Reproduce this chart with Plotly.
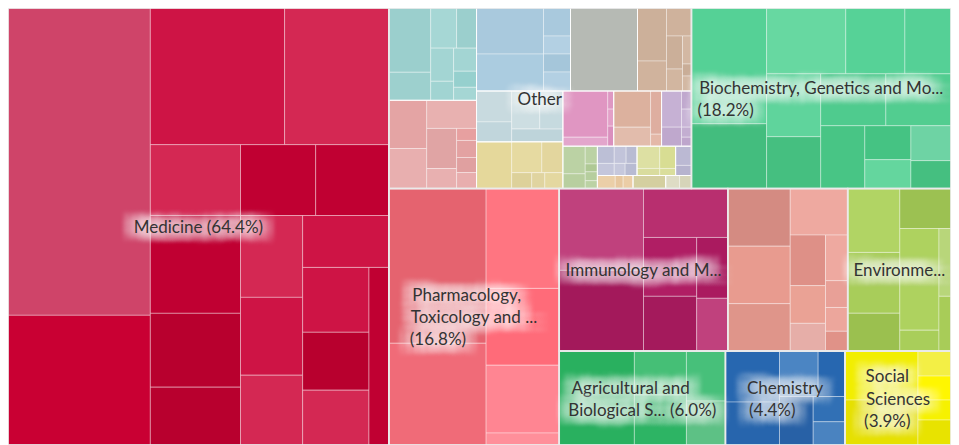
import plotly.graph_objects as go

# ---------------- data (areas) ----------------
CAT_KEYS = ["MED", "OTH", "BIO", "PHA", "IMM", "SAL", "ENV", "AGR", "CHE", "SOC"]
CAT_NAMES = ["Medicine", "Other", "Biochemistry, Genetics and Molecular Biology",
             "Pharmacology, Toxicology and Pharmaceutics", "Immunology and Microbiology",
             "Unlabelled area", "Environmental Science", "Agricultural and Biological Sciences",
             "Chemistry", "Social Sciences"]
EM, EN, THIN = "\u2003", "\u2002", "\u2009"
CAT_LABELS = ["Medicine (64.4%)", "Other",
              "Biochemistry, Genetics and Mo...<br>(18.2%)" + EM * 15,
              "Pharmacology," + EM + THIN + "<br>Toxicology and ...<br>(16.8%)" + EM * 5 + EN,
              "Immunology and M...", "", "Environme...",
              "Agricultural and" + EM + EN + THIN + "<br>Biological S... (6.0%)",
              "Chemistry<br>(4.4%)" + EM * 2, "Social" + EM + EN + "<br>Sciences<br>(3.9%)" + EM + EN]

MED_VALUES = [43736, 18460, 18358, 14248, 6390, 5325, 5183, 8820, 6660, 5220,
              5084, 4836, 4340, 4472, 4290, 3828, 3630, 3560]
MED_COLORS = ["#CF4469", "#C90033", "#CE1445", "#D42853", "#D42853", "#C00032", "#C00032",
              "#C00032", "#B8002E", "#B8002E", "#D42853", "#CE1445", "#D42853", "#CE1445",
              "#CE1445", "#B8002E", "#D42853", "#C00032"]
MED_TILES = ("H", [("V", [0, 1]),
                   ("V", [("H", [2, 3]), ("H", [4, 5, 6]),
                          ("H", [("V", [7, 8, 9]), ("V", [10, 11, 12]),
                                 ("V", [13, ("H", [("V", [14, 15, 16]), 17])])])])])

BIO_VALUES = [8700, 4875, 5214, 3894, 3036, 3402, 2808, 3380, 3380, 2772, 1564, 1334, 1400, 1120]
BIO_COLORS = ["#55D196", "#43BD7E", "#67D8A1", "#56D297", "#55D096", "#5FD49C", "#45BF80",
              "#4FCB8E", "#52CD90", "#48C585", "#45C383", "#64D69E", "#6ED3A4", "#45BF80"]
BIO_TILES = ("H", [("V", [0, 1]),
                   ("V", [("H", [2, 3, 4]),
                          ("H", [("V", [5, 6]),
                                 ("V", [("H", [7, 8]), ("H", [9, ("V", [10, 11]), ("V", [12, 13])])])])])])

PHA_VALUES = [15035, 9894, 7300, 5621, 4964, 876]
PHA_COLORS = ["#E5636F", "#F06B78", "#FF7581", "#FF6B79", "#FF8592", "#FF8F9A"]
PHA_TILES = ("H", [("V", [0, 1]), ("V", [2, 3, 4, 5])])

IMM_VALUES = [6888, 6804, 4116, 3127, 2915, 1891, 1643]
IMM_COLORS = ["#C0417D", "#A3195B", "#B82F6F", "#B01E64", "#A41A5C", "#AA1A5F", "#C0417D"]
IMM_TILES = ("H", [("V", [0, 1]), ("V", [2, ("H", [("V", [3, 4]), ("V", [5, 6])])])])

SAL_VALUES = [3591, 3591, 2961, 2668, 1785, 1330, 980, 1012, 594, 528, 440]
SAL_COLORS = ["#D48B82", "#E89B8F", "#DF958A", "#EEA9A0", "#DE9087", "#EAA295", "#E6AEA8",
              "#EEA9A0", "#E8A097", "#ECA69C", "#E09288"]
SAL_TILES = ("H", [("V", [0, 1, 2]), ("V", [3, ("H", [("V", [4, 5, 6]), ("V", [7, 8, 9, 10])])])])

ENV_VALUES = [3328, 3172, 1976, 2040, 3978, 819, 816, 660]
ENV_COLORS = ["#B1D464", "#A8CD5A", "#9BC04F", "#9CC152", "#AED25F", "#A9CE5A", "#B8D67A", "#A8CC58"]
ENV_TILES = ("H", [("V", [0, 1, 2]), ("V", [3, ("H", [("V", [4, 5]), ("V", [6, 7])])])])

AGR_VALUES = [7050, 2288, 2600, 1950, 1716]
AGR_COLORS = ["#29B05F", "#45BF76", "#2DB464", "#47C07A", "#5DC185"]
AGR_TILES = ("H", [0, ("V", [1, 2]), ("V", [3, 4])])

CHE_VALUES = [2754, 2322, 1755, 1215, 1632, 800, 736]
CHE_COLORS = ["#2767B0", "#2765AD", "#4B85C3", "#2767B0", "#2861A6", "#3170B5", "#4A83C0"]
CHE_TILES = ("H", [("V", [0, 1]), ("V", [("H", [2, 3]), ("H", [4, ("V", [5, 6])])])])

SOC_VALUES = [3577, 3285, 825, 792, 660, 825]
SOC_COLORS = ["#F2EE00", "#E6E000", "#F3EF45", "#FFF600", "#F6F100", "#E8E300"]
SOC_TILES = ("H", [("V", [0, 1]), ("V", [2, 3, 4, 5])])

# "Other" is made of several smaller subject blocks
TEAL_VALUES = [2688, 1176, 1040, 800, 759, 437, 529, 368, 299]
TEAL_COLORS = ["#9BCFCD", "#9DD0CE", "#A6D7D5", "#9BCFCD", "#A3D5D3", "#A1D4D2", "#A3D5D3", "#96D0CE", "#A5D6D4"]
TEAL_TILES = ("H", [("V", [0, 1]), ("V", [("H", [2, 3]), ("H", [("V", [4, 5]), ("V", [6, 7, 8])])])])

ROSY_VALUES = [1824, 1520, 1400, 1200, 600, 240, 340, 300, 320]
ROSY_COLORS = ["#E4A4A4", "#E8AFAF", "#E8B1B0", "#E0A4A4", "#E8B0B0", "#E7A0A0", "#E3A2A2", "#E0A0A0", "#E8AEAE"]
ROSY_TILES = ("H", [("V", [0, 1]), ("V", [2, ("H", [("V", [3, 4]), ("V", [5, 6, 7, 8])])])])

BLUE_VALUES = [3082, 2479, 756, 486, 486, 513]
BLUE_COLORS = ["#A9C9DD", "#ABCCE0", "#A9C9DD", "#B3D0E3", "#A5C6DA", "#B3D0E3"]
BLUE_TILES = ("H", [("V", [0, 1]), ("V", [2, 3, 4, 5])])

GRAY_VALUES = [5561]
GRAY_COLORS = ["#B6BAB4"]
GRAY_TILES = 0

TAN_VALUES = [1537, 870, 700, 528, 352, 252, 108, 135]
TAN_COLORS = ["#CCB09A", "#D0B39D", "#CFB29C", "#CBAF99", "#D2B6A0", "#D3B8A3", "#C9AD97", "#D3B8A3"]
TAN_TILES = ("H", [("V", [0, 1]), ("V", [2, ("H", [("V", [3, 4]), ("V", [5, 6, 7])])])])

BLUEGRAY_VALUES = [1085, 700, 1064, 874, 663]
BLUEGRAY_COLORS = ["#C8DADF", "#C1D6DC", "#CDDEE2", "#C6DADF", "#BED4DA"]
BLUEGRAY_TILES = ("H", [("V", [0, 1]), ("V", [("H", [2, 3]), 4])])

YELLOW_VALUES = [1645, 930, 651, 320, 208, 288]
YELLOW_COLORS = ["#E5D89B", "#E6DAA1", "#E3D69E", "#DDD19A", "#E0D4A0", "#E4D8A0"]
YELLOW_TILES = ("H", [0, ("V", [("H", [1, 2]), ("H", [3, 4, 5])])])

MAGENTA_VALUES = [2070, 405, 108, 102, 120]
MAGENTA_COLORS = ["#E096C2", "#E3A6CC", "#DE98C3", "#E3A0C8", "#DA90BE"]
MAGENTA_TILES = ("H", [("V", [0, 1]), ("V", [2, 3, 4])])

PEACH_VALUES = [1332, 703, 473, 132]
PEACH_COLORS = ["#DCB19E", "#E2BCAC", "#DEAEA0", "#E4B8A8"]
PEACH_TILES = ("H", [("V", [0, 1]), ("V", [2, 3])])

LAVENDER_VALUES = [720, 380, 180, 180, 100, 90]
LAVENDER_COLORS = ["#C6B1D4", "#BFA8CD", "#C0A8CE", "#C8B4D6", "#C3AED1", "#BEA6CC"]
LAVENDER_TILES = ("H", [("V", [0, 1]), ("V", [2, 3, 4, 5])])

GREEN_VALUES = [616, 330, 216, 96, 108, 96]
GREEN_COLORS = ["#BBD2A4", "#B8CF9F", "#BBD2A4", "#AFC995", "#B6CE9E", "#BBD2A4"]
GREEN_TILES = ("H", [("V", [0, 1]), ("V", [2, 3, 4, 5])])

PERI_VALUES = [289, 204, 204, 187, 132, 144]
PERI_COLORS = ["#BCBFD6", "#C4C6DB", "#C2C4DA", "#B9BCD3", "#C6C8DC", "#B8BBD2"]
PERI_TILES = ("H", [("V", [0, 1]), ("V", [("H", [2, 3]), ("H", [4, 5])])])

PALEYG_VALUES = [506, 161, 352, 112]
PALEYG_COLORS = ["#DDE0A3", "#D9DC9E", "#D8DD93", "#DADE9C"]
PALEYG_TILES = ("H", [("V", [0, 1]), ("V", [2, 3])])

LAVGRAY_VALUES = [304, 160]
LAVGRAY_COLORS = ["#BBB9D3", "#B6B3CE"]
LAVGRAY_TILES = ("V", [0, 1])

PEACH2_VALUES = [234, 104, 130]
PEACH2_COLORS = ["#EBCFA8", "#E7C79F", "#EBCDA6"]
PEACH2_TILES = ("H", [0, 1, 2])

KHAKI_VALUES = [429]
KHAKI_COLORS = ["#D4CFA0"]
KHAKI_TILES = 0

BEIGE_VALUES = [182, 156]
BEIGE_COLORS = ["#DEDCC5", "#D6D4B9"]
BEIGE_TILES = ("H", [0, 1])

OTHER_TILES = ("H", [("V", ["teal", "rosy"]),
                     ("V", [("H", ["blue", "gray", "tan"]),
                            ("H", [("V", ["bluegray", "yellow"]),
                                   ("V", [("H", ["magenta", "peach", "lavender"]),
                                          ("H", ["green",
                                                 ("V", [("H", ["peri", "paleyg", "lavgray"]),
                                                        ("H", ["peach2", "khaki", "beige"])])])])])])])

TOP_TILES = ("H", ["MED", ("V", [("H", ["OTH", "BIO"]),
                                ("H", ["PHA", ("V", [("H", ["IMM", "SAL", "ENV"]),
                                                     ("H", ["AGR", "CHE", "SOC"])])])])])

# ---------------- build hierarchy ----------------
OTHER_BLOCKS = {
    "teal": (TEAL_VALUES, TEAL_COLORS, TEAL_TILES), "rosy": (ROSY_VALUES, ROSY_COLORS, ROSY_TILES),
    "blue": (BLUE_VALUES, BLUE_COLORS, BLUE_TILES), "gray": (GRAY_VALUES, GRAY_COLORS, GRAY_TILES),
    "tan": (TAN_VALUES, TAN_COLORS, TAN_TILES),
    "bluegray": (BLUEGRAY_VALUES, BLUEGRAY_COLORS, BLUEGRAY_TILES),
    "yellow": (YELLOW_VALUES, YELLOW_COLORS, YELLOW_TILES),
    "magenta": (MAGENTA_VALUES, MAGENTA_COLORS, MAGENTA_TILES),
    "peach": (PEACH_VALUES, PEACH_COLORS, PEACH_TILES),
    "lavender": (LAVENDER_VALUES, LAVENDER_COLORS, LAVENDER_TILES),
    "green": (GREEN_VALUES, GREEN_COLORS, GREEN_TILES), "peri": (PERI_VALUES, PERI_COLORS, PERI_TILES),
    "paleyg": (PALEYG_VALUES, PALEYG_COLORS, PALEYG_TILES),
    "lavgray": (LAVGRAY_VALUES, LAVGRAY_COLORS, LAVGRAY_TILES),
    "peach2": (PEACH2_VALUES, PEACH2_COLORS, PEACH2_TILES),
    "khaki": (KHAKI_VALUES, KHAKI_COLORS, KHAKI_TILES), "beige": (BEIGE_VALUES, BEIGE_COLORS, BEIGE_TILES),
}
CAT_BLOCKS = {
    "MED": (MED_VALUES, MED_COLORS, MED_TILES), "BIO": (BIO_VALUES, BIO_COLORS, BIO_TILES),
    "PHA": (PHA_VALUES, PHA_COLORS, PHA_TILES), "IMM": (IMM_VALUES, IMM_COLORS, IMM_TILES),
    "SAL": (SAL_VALUES, SAL_COLORS, SAL_TILES), "ENV": (ENV_VALUES, ENV_COLORS, ENV_TILES),
    "AGR": (AGR_VALUES, AGR_COLORS, AGR_TILES), "CHE": (CHE_VALUES, CHE_COLORS, CHE_TILES),
    "SOC": (SOC_VALUES, SOC_COLORS, SOC_TILES),
}


def build(tiles, resolve):
    if isinstance(tiles, tuple):
        d, kids = tiles
        return {"dir": d, "kids": [build(k, resolve) for k in kids]}
    return resolve(tiles)


def block(values, colors, tiles, kind, name, text=""):
    node = build(tiles, lambda i: {"value": values[i], "color": colors[i], "name": f"{name} {i + 1}"})
    if "kids" not in node:
        node = {"dir": "H", "kids": [node]}
    node.update(kind=kind, name=name, text=text)
    return node


sub_nodes = {k: block(v, c, t, "sub", k) for k, (v, c, t) in OTHER_BLOCKS.items()}
cat_nodes = {}
for key, name, label in zip(CAT_KEYS, CAT_NAMES, CAT_LABELS):
    if key == "OTH":
        node = build(OTHER_TILES, lambda n: sub_nodes[n])
        node.update(kind="cat", name=name, text=label)
    else:
        v, c, t = CAT_BLOCKS[key]
        node = block(v, c, t, "cat", name, label)
    cat_nodes[key] = node
top = build(TOP_TILES, lambda k: cat_nodes[k])


def total(node):
    if "kids" not in node:
        return node["value"]
    return sum(total(k) for k in node["kids"])


def flatten(stop, leaf_color, leaf_line, leaf_width):
    out = {"ids": [], "parents": [], "values": [], "colors": [], "text": [], "lc": [], "lw": []}

    def add(parent, value, color, text, lc, lw, label):
        nid = f"{label}#{len(out['ids'])}"
        out["ids"].append(nid)
        out["parents"].append(parent)
        out["values"].append(value)
        out["colors"].append(color)
        out["text"].append(text)
        out["lc"].append(lc)
        out["lw"].append(lw)
        return nid

    def place(node, parent, depth):
        val = total(node)
        label = node.get("name", "")
        if "kids" not in node or stop(node):
            add(parent, val, leaf_color(node), node.get("text", "") if stop(node) else "",
                leaf_line, leaf_width, label)
            return
        want = 0 if node["dir"] == "H" else 1
        if depth % 2 != want:
            parent = add(parent, val, "rgba(0,0,0,0)", "", "rgba(0,0,0,0)", 0, label + " wrap")
            depth += 1
        gid = add(parent, val, "rgba(0,0,0,0)", "", "rgba(0,0,0,0)", 0, label)
        for k in node["kids"]:
            place(k, gid, depth + 1)

    place(top, "", 0)
    return out


def make_trace(data, textinfo, hover=True):
    return go.Treemap(
        ids=data["ids"], labels=data["ids"], parents=data["parents"], values=data["values"],
        text=data["text"], textinfo=textinfo, branchvalues="total", sort=False,
        marker=dict(colors=data["colors"], line=dict(color=data["lc"], width=data["lw"]),
                    pad=dict(t=0, l=0, r=0, b=0)),
        tiling=dict(packing="slice-dice", pad=0),
        pathbar=dict(visible=False), root=dict(color="rgba(0,0,0,0)"),
        hoverinfo="text" if hover else "skip",
    )


full = flatten(lambda n: False, lambda n: n["color"], "rgba(255,255,255,0.35)", 1)
subs = flatten(lambda n: n.get("kind") == "sub" or (n.get("kind") == "cat" and n["name"] != "Other"),
               lambda n: "rgba(0,0,0,0)", "rgba(255,255,255,0.75)", 1)
cats = flatten(lambda n: n.get("kind") == "cat", lambda n: "rgba(0,0,0,0)", "#EAEAEA", 1.5)

halo = ", ".join(f"{dx}px {dy}px 5px rgba(255,255,255,0.5)"
                 for dx in (-10, -4, 4, 10) for dy in (-7, 0, 7))

fig = go.Figure()
fig.add_trace(make_trace(full, "none"))
fig.add_trace(make_trace(subs, "none", hover=False))
t3 = make_trace(cats, "text", hover=False)
t3.update(textposition="middle center",
          textfont=dict(family="Lato, 'Open Sans', sans-serif", size=17, color="#333333",
                        shadow=halo))
fig.add_trace(t3)

fig.update_layout(
    width=951, height=437,
    margin=dict(l=0, r=8, t=0, b=0),
    paper_bgcolor="white", plot_bgcolor="white",
    uniformtext=dict(minsize=17, mode="show"),
    showlegend=False,
)

fig.write_html("out.html")
